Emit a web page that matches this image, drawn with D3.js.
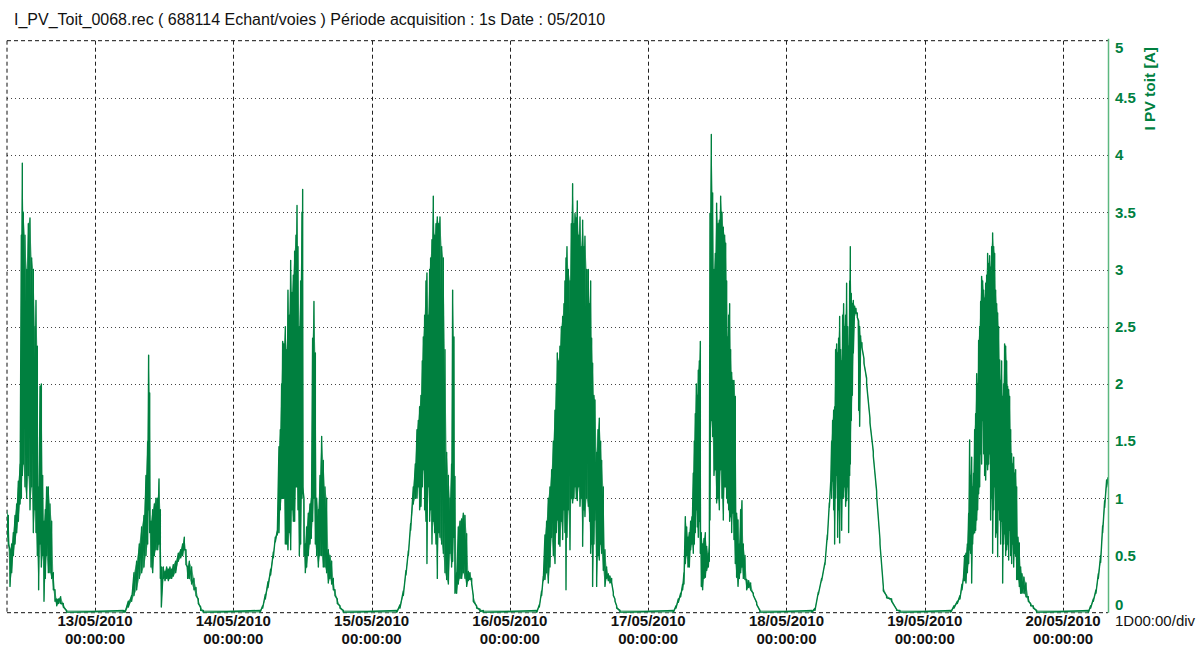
<!DOCTYPE html>
<html>
<head>
<meta charset="utf-8">
<script src="https://cdn.jsdelivr.net/npm/d3@7/dist/d3.min.js"></script>
<style>
  body { margin: 0; background: #fff; }
  svg { display: block; }
</style>
</head>
<body>
<div id="viz"></div>
<script>
const W = 1201;
const H = 648;
const PLOT = { left: 7, right: 1108, top: 40.7, bottom: 612.7 };
const FONT = "'Liberation Sans', Arial, sans-serif";
const GREEN = "#00803f";
const LIGHT_GREEN = "#5aae82";
const AXIS_GREEN = "#5cb87f";

const TITLE = "I_PV_Toit_0068.rec ( 688114 Echant/voies ) Période acquisition : 1s Date : 05/2010";
const Y_TITLE = "I PV toit [A]";
const X_UNIT = "1D00:00/div";

// time in hours since 12/05/2010 00:00:00
const T_START = 8.73;
const T_END = 199.8;
const DAY_TICKS = [24, 48, 72, 96, 120, 144, 168, 192];
const DAY_LABELS = ["13/05/2010", "14/05/2010", "15/05/2010", "16/05/2010",
                    "17/05/2010", "18/05/2010", "19/05/2010", "20/05/2010"];
const TIME_LABEL = "00:00:00";
const Y_TICKS = [0, 0.5, 1, 1.5, 2, 2.5, 3, 3.5, 4, 4.5, 5];

// [hour, low envelope, high envelope] in A
const day12 = [
  [8.67, 0.66, 0.9], [8.96, 0.6, 0.85], [9.25, 0.23, 0.55], [9.54, 0.35, 0.6], [9.83, 0.5, 0.7],
  [10.12, 0.6, 0.85], [10.41, 0.7, 0.95], [10.7, 0.8, 1.15], [10.99, 0.95, 1.3], [11.22, 1.0, 3.3],
  [11.39, 1.2, 3.93], [11.56, 1.3, 3.5], [11.85, 1.1, 3.3], [12.14, 1.0, 3.0], [12.43, 1.2, 3.4],
  [12.72, 0.9, 3.45], [13.01, 1.1, 3.1], [13.3, 0.7, 3.0], [13.59, 0.9, 2.5], [13.76, 0.7, 2.73],
  [13.99, 0.5, 2.33], [14.22, 0.2, 1.1], [14.46, 0.6, 1.98], [14.69, 0.4, 2.0], [14.92, 0.5, 1.2],
  [15.15, 0.1, 0.8], [15.38, 0.3, 0.9], [15.61, 0.5, 1.1], [15.9, 0.35, 1.1], [16.19, 0.35, 0.95],
  [16.48, 0.3, 0.8], [16.77, 0.2, 0.35], [17.06, 0.1, 0.2], [17.35, 0.06, 0.12], [17.64, 0.08, 0.12],
  [18.04, 0.08, 0.14], [18.5, 0.05, 0.08], [19.08, 0, 0.02]
];
const day13 = [
  [28.92, 0, 0.02], [29.21, 0, 0.02], [29.78, 0.05, 0.1], [30.36, 0.1, 0.15], [30.77, 0.15, 0.35],
  [31.23, 0.2, 0.45], [31.69, 0.3, 0.6], [32.1, 0.35, 0.75], [32.5, 0.4, 0.85], [32.85, 0.5, 1.2],
  [33.14, 0.6, 1.5], [33.31, 0.9, 2.25], [33.49, 0.7, 1.92], [33.72, 0.4, 0.8], [34.01, 0.35, 0.9],
  [34.3, 0.5, 0.95], [34.59, 0.55, 1.0], [34.88, 0.55, 1.0], [35.11, 0.6, 1.17], [35.34, 0.3, 0.9],
  [35.51, 0.05, 0.4], [35.86, 0.3, 0.4], [36.15, 0.28, 0.36], [36.44, 0.3, 0.4], [36.73, 0.28, 0.38],
  [37.01, 0.3, 0.4], [37.3, 0.3, 0.38], [37.59, 0.32, 0.42], [38.0, 0.35, 0.45], [38.46, 0.45, 0.52],
  [38.87, 0.48, 0.55], [39.21, 0.5, 0.6], [39.5, 0.55, 0.66], [39.79, 0.42, 0.55], [40.08, 0.3, 0.4],
  [40.37, 0.3, 0.45], [40.77, 0.25, 0.4], [41.18, 0.2, 0.3], [41.53, 0.15, 0.22], [41.93, 0.08, 0.12],
  [42.34, 0.02, 0.05], [42.8, 0, 0.02]
];
const day14 = [
  [52.63, 0, 0.02], [53.1, 0.04, 0.06], [53.56, 0.12, 0.16], [54.02, 0.22, 0.27], [54.48, 0.33, 0.38],
  [54.95, 0.48, 0.53], [55.29, 0.62, 0.66], [55.64, 0.68, 0.72], [55.93, 0.7, 1.45], [56.16, 0.9, 1.6],
  [56.39, 1.0, 2.0], [56.57, 1.0, 2.37], [56.8, 1.0, 2.35], [57.03, 0.6, 2.5], [57.26, 0.6, 2.3],
  [57.49, 0.55, 2.82], [57.72, 0.7, 2.6], [57.96, 0.55, 3.08], [58.19, 0.9, 2.8], [58.42, 0.8, 2.95],
  [58.65, 0.8, 3.16], [58.88, 1.1, 3.3], [59.06, 1.1, 3.56], [59.23, 0.9, 3.2], [59.46, 0.5, 2.5],
  [59.69, 0.6, 2.9], [59.92, 1.0, 3.5], [60.04, 1.1, 3.7], [60.27, 0.5, 1.0], [60.5, 0.35, 0.6],
  [60.73, 0.4, 0.75], [61.02, 0.5, 0.87], [61.31, 0.6, 0.95], [61.54, 0.65, 1.0], [61.77, 0.8, 2.4],
  [62.0, 1.0, 2.72], [62.24, 0.6, 2.27], [62.47, 0.5, 1.0], [62.76, 0.4, 0.9], [63.05, 0.5, 1.2],
  [63.34, 0.5, 1.54], [63.62, 0.4, 1.33], [63.91, 0.4, 1.1], [64.2, 0.35, 1.0], [64.49, 0.26, 0.55],
  [64.78, 0.3, 0.5], [65.07, 0.25, 0.45], [65.36, 0.2, 0.3], [65.65, 0.15, 0.2], [66.05, 0.08, 0.12],
  [66.52, 0.04, 0.06], [67.1, 0, 0.02]
];
const day15 = [
  [76.35, 0, 0.02], [76.93, 0.04, 0.07], [77.51, 0.15, 0.19], [77.97, 0.33, 0.37], [78.38, 0.5, 0.54],
  [78.78, 0.72, 0.78], [79.24, 0.95, 1.1], [79.59, 1.0, 1.3], [79.88, 1.0, 1.6], [80.11, 1.1, 1.68],
  [80.34, 0.9, 1.8], [80.57, 0.93, 1.9], [80.8, 1.1, 2.2], [80.98, 1.25, 2.41], [81.21, 0.9, 2.6],
  [81.44, 0.8, 2.9], [81.61, 0.43, 2.97], [81.84, 1.1, 2.6], [82.08, 0.8, 3.0], [82.25, 0.9, 3.1],
  [82.48, 0.6, 3.26], [82.71, 0.8, 3.64], [82.94, 0.7, 3.3], [83.18, 0.6, 3.4], [83.41, 0.3, 3.46],
  [83.64, 0.7, 3.4], [83.87, 0.66, 3.46], [84.16, 0.6, 3.2], [84.45, 0.52, 3.1], [84.74, 0.35, 2.3],
  [85.03, 0.29, 1.4], [85.32, 0.25, 1.2], [85.61, 0.52, 1.0], [85.89, 0.4, 1.3], [86.07, 0.45, 2.82],
  [86.3, 0.66, 2.41], [86.47, 0.17, 1.19], [86.76, 0.17, 0.35], [87.05, 0.25, 0.75], [87.34, 0.3, 0.8],
  [87.63, 0.3, 0.82], [87.92, 0.35, 0.87], [88.21, 0.3, 0.85], [88.5, 0.23, 0.69], [88.79, 0.28, 0.36],
  [89.08, 0.29, 0.35], [89.37, 0.25, 0.3], [89.65, 0.1, 0.15], [90.23, 0.04, 0.06], [90.81, 0.01, 0.03],
  [91.39, 0, 0.02]
];
const day16 = [
  [100.65, 0, 0.02], [101.11, 0.05, 0.07], [101.51, 0.15, 0.19], [101.8, 0.28, 0.32], [102.09, 0.29, 0.68],
  [102.38, 0.35, 0.8], [102.67, 0.26, 1.0], [102.96, 0.4, 1.1], [103.25, 0.66, 1.25], [103.54, 0.5, 1.5],
  [103.83, 0.43, 1.77], [104.06, 0.7, 2.0], [104.23, 0.81, 2.27], [104.46, 0.6, 2.2], [104.69, 0.58, 2.33],
  [104.93, 0.8, 2.5], [105.16, 0.64, 2.59], [105.39, 0.9, 2.7], [105.56, 0.7, 2.9], [105.74, 0.2, 3.1],
  [105.91, 0.66, 3.2], [106.14, 0.9, 3.0], [106.43, 0.55, 2.9], [106.66, 1.0, 3.4], [106.89, 0.96, 3.75],
  [107.12, 1.0, 3.4], [107.3, 1.1, 3.49], [107.53, 1.0, 3.45], [107.7, 0.98, 3.6], [107.93, 1.1, 3.3],
  [108.17, 0.93, 3.46], [108.4, 1.0, 3.2], [108.63, 0.58, 3.43], [108.86, 0.9, 3.2], [109.03, 0.84, 3.29],
  [109.32, 1.0, 3.0], [109.61, 0.93, 3.0], [109.84, 0.8, 2.7], [110.02, 0.52, 2.9], [110.19, 0.6, 2.4],
  [110.36, 0.23, 2.18], [110.59, 0.6, 1.9], [110.77, 0.81, 1.86], [111.06, 0.23, 1.4], [111.29, 0.5, 1.6],
  [111.52, 0.46, 1.7], [111.75, 0.6, 1.5], [111.93, 0.52, 1.33], [112.21, 0.37, 1.1], [112.5, 0.23, 0.55],
  [112.79, 0.3, 0.4], [113.08, 0.28, 0.34], [113.37, 0.26, 0.32], [113.66, 0.26, 0.3], [113.95, 0.15, 0.18],
  [114.24, 0.1, 0.12], [114.53, 0.04, 0.06], [115.11, 0, 0.02]
];
const day17 = [
  [124.36, 0, 0.02], [124.83, 0.04, 0.06], [125.23, 0.09, 0.12], [125.64, 0.14, 0.17], [125.98, 0.2, 0.25],
  [126.21, 0.25, 0.35], [126.45, 0.43, 0.84], [126.68, 0.5, 0.75], [126.91, 0.4, 0.66], [127.14, 0.4, 0.7],
  [127.37, 0.55, 0.8], [127.6, 0.6, 0.84], [127.83, 0.52, 1.22], [128.01, 0.6, 1.5], [128.18, 0.7, 1.74],
  [128.36, 0.9, 2.0], [128.53, 0.75, 1.9], [128.7, 0.66, 2.12], [128.88, 0.8, 2.2], [129.05, 0.52, 2.37],
  [129.22, 0.23, 0.7], [129.45, 0.2, 0.6], [129.69, 0.3, 0.65], [129.92, 0.31, 0.7], [130.15, 0.37, 0.58],
  [130.44, 0.4, 0.52], [130.61, 0.45, 0.6], [130.73, 0.81, 3.49], [130.96, 1.68, 4.18], [131.19, 1.54, 3.67],
  [131.42, 1.2, 3.0], [131.65, 1.25, 3.14], [131.88, 0.96, 3.58], [132.12, 1.0, 3.4], [132.35, 0.9, 3.43],
  [132.58, 1.25, 3.64], [132.81, 1.0, 3.5], [133.04, 0.81, 3.37], [133.27, 1.1, 3.3], [133.45, 1.1, 3.23],
  [133.62, 1.0, 2.9], [133.79, 0.96, 2.41], [133.97, 0.9, 2.6], [134.14, 0.8, 2.7], [134.31, 0.84, 2.3],
  [134.49, 0.7, 2.1], [134.66, 0.87, 2.03], [134.89, 0.64, 2.03], [135.12, 0.43, 1.89], [135.35, 0.31, 0.87],
  [135.59, 0.23, 0.81], [135.82, 0.3, 0.6], [136.05, 0.35, 0.9], [136.28, 0.4, 0.98], [136.51, 0.3, 0.6],
  [136.8, 0.29, 0.5], [137.09, 0.2, 0.29], [137.44, 0.22, 0.28], [137.78, 0.2, 0.26], [138.25, 0.15, 0.17],
  [138.83, 0.07, 0.09], [139.4, 0, 0.02]
];
const day18 = [
  [148.37, 0, 0.02], [148.95, 0.02, 0.04], [149.53, 0.16, 0.18], [150.11, 0.28, 0.3], [150.68, 0.42, 0.44],
  [151.09, 0.64, 0.68], [151.44, 0.92, 0.96], [151.67, 1.1, 1.14], [151.84, 1.0, 1.5], [152.01, 1.15, 1.68],
  [152.19, 0.9, 1.77], [152.36, 0.6, 1.8], [152.53, 1.0, 2.3], [152.71, 1.2, 2.35], [152.88, 0.66, 2.27],
  [153.05, 0.9, 2.4], [153.23, 0.61, 2.59], [153.4, 1.0, 2.3], [153.58, 0.72, 2.2], [153.75, 1.0, 2.6],
  [153.92, 1.01, 2.7], [154.1, 1.1, 2.5], [154.27, 0.93, 2.6], [154.44, 0.98, 2.88], [154.62, 1.1, 2.5],
  [154.79, 0.7, 2.33], [154.97, 1.2, 2.9], [155.08, 1.3, 3.2], [155.25, 1.68, 2.79], [155.43, 1.9, 2.7],
  [155.6, 2.27, 2.73], [155.83, 2.6, 2.68], [156.06, 2.62, 2.66], [156.29, 2.58, 2.62], [156.53, 1.77, 2.55],
  [156.7, 1.63, 2.5], [156.87, 2.35, 2.42], [157.1, 2.32, 2.36], [157.45, 2.18, 2.22], [157.91, 2.0, 2.05],
  [158.49, 1.66, 1.7], [159.07, 1.37, 1.41], [159.65, 1.02, 1.06], [160.23, 0.6, 0.64], [160.81, 0.19, 0.23],
  [161.38, 0.13, 0.15], [162.25, 0.1, 0.12], [163.12, 0.02, 0.03], [163.7, 0, 0.02]
];
const day19 = [
  [172.49, 0, 0.02], [173.07, 0.04, 0.06], [173.65, 0.08, 0.1], [174.11, 0.12, 0.15], [174.46, 0.2, 0.25],
  [174.69, 0.28, 0.3], [174.92, 0.28, 0.5], [175.15, 0.26, 0.52], [175.39, 0.35, 0.6], [175.62, 0.43, 0.87],
  [175.79, 0.55, 1.51], [175.96, 0.52, 1.2], [176.14, 0.26, 1.36], [176.31, 0.6, 1.1], [176.48, 0.69, 1.22],
  [176.66, 0.7, 1.6], [176.83, 0.72, 1.74], [177.01, 0.81, 2.09], [177.18, 0.9, 2.0], [177.35, 1.04, 2.38],
  [177.53, 1.1, 2.5], [177.7, 1.39, 2.72], [177.87, 1.3, 2.94], [178.05, 1.68, 2.9], [178.22, 1.39, 2.82],
  [178.39, 1.2, 2.75], [178.57, 1.16, 2.88], [178.74, 1.3, 2.95], [178.91, 1.25, 3.14], [179.09, 1.3, 3.05],
  [179.26, 1.39, 3.12], [179.43, 0.81, 3.02], [179.61, 1.0, 3.2], [179.78, 0.52, 3.32], [179.96, 0.9, 3.2],
  [180.13, 1.1, 3.14], [180.3, 0.66, 2.82], [180.48, 0.7, 2.7], [180.65, 0.49, 2.62], [180.82, 0.9, 2.5],
  [181.0, 0.81, 2.21], [181.17, 0.6, 2.03], [181.34, 0.8, 2.2], [181.52, 0.26, 1.89], [181.69, 0.6, 2.0],
  [181.86, 0.69, 2.35], [182.04, 0.5, 2.33], [182.21, 0.55, 2.2], [182.38, 0.6, 1.98], [182.56, 0.46, 1.95],
  [182.73, 0.72, 1.89], [182.91, 0.5, 1.6], [183.08, 0.43, 1.39], [183.25, 0.6, 1.3], [183.43, 0.4, 1.36],
  [183.6, 0.52, 1.22], [183.77, 0.5, 1.25], [183.95, 0.29, 1.1], [184.18, 0.29, 0.66], [184.41, 0.23, 0.61],
  [184.64, 0.17, 0.4], [184.87, 0.17, 0.34], [185.22, 0.17, 0.31], [185.57, 0.14, 0.26], [185.97, 0.1, 0.14],
  [186.38, 0.06, 0.08], [186.84, 0.04, 0.06], [187.42, 0, 0.02]
];
const day20 = [
  [196.38, 0, 0.02], [196.79, 0.04, 0.06], [197.25, 0.1, 0.12], [197.71, 0.17, 0.2], [198.12, 0.3, 0.34],
  [198.52, 0.44, 0.5], [198.87, 0.7, 0.76], [199.22, 0.92, 0.98], [199.56, 1.1, 1.16], [199.8, 1.14, 1.18]
];

function drawFrame(svg, x, y) {
  // horizontal dotted grid
  svg.append("g")
    .selectAll("line")
    .data(Y_TICKS.filter(v => v > 0 && v < 5))
    .join("line")
    .attr("x1", PLOT.left).attr("x2", PLOT.right)
    .attr("y1", d => Math.round(y(d)) + 0.5).attr("y2", d => Math.round(y(d)) + 0.5)
    .attr("stroke", "#444")
    .attr("stroke-width", 1)
    .attr("stroke-dasharray", "1,3");

  // vertical day lines
  svg.append("g")
    .selectAll("line")
    .data(DAY_TICKS)
    .join("line")
    .attr("x1", d => Math.round(x(d)) + 0.5).attr("x2", d => Math.round(x(d)) + 0.5)
    .attr("y1", PLOT.top).attr("y2", PLOT.bottom)
    .attr("stroke", "#222")
    .attr("stroke-width", 1)
    .attr("stroke-dasharray", "4,3");

  // dashed border (left, top, bottom)
  const border = [
    [PLOT.left, PLOT.top, PLOT.right, PLOT.top],
    [PLOT.left, PLOT.top, PLOT.left, PLOT.bottom],
    [PLOT.left, PLOT.bottom, PLOT.right, PLOT.bottom]
  ];
  svg.append("g")
    .selectAll("line")
    .data(border)
    .join("line")
    .attr("x1", d => d[0]).attr("y1", d => d[1])
    .attr("x2", d => d[2]).attr("y2", d => d[3])
    .attr("stroke", "#111")
    .attr("stroke-width", 1)
    .attr("stroke-dasharray", "4,3");
}

function drawTrace(svg, x, y) {
  const samples = [].concat(day12, day13, day14, day15, day16, day17, day18, day19, day20);

  svg.append("clipPath").attr("id", "plot-clip")
    .append("rect")
    .attr("x", PLOT.left).attr("y", PLOT.top - 2)
    .attr("width", PLOT.right - PLOT.left).attr("height", PLOT.bottom - PLOT.top + 2);

  const g = svg.append("g").attr("clip-path", "url(#plot-clip)");

  // light envelope between low and high readings
  const band = d3.area()
    .x(d => x(d[0]))
    .y0(d => y(d[1]))
    .y1(d => y(d[2]));

  g.append("path")
    .datum(samples)
    .attr("d", band)
    .attr("fill", LIGHT_GREEN);

  // dense trace: each reading swings from its high to its low value
  const swing = d3.line().x(d => d.x).y(d => d.y);
  const swingPts = samples.flatMap(d => [
    { x: x(d[0]), y: y(d[2]) },
    { x: x(d[0]), y: y(d[1]) }
  ]);

  g.append("path")
    .attr("d", swing(swingPts))
    .attr("fill", "none")
    .attr("stroke", GREEN)
    .attr("stroke-width", 1.4)
    .attr("stroke-linejoin", "round");
}

function drawAxes(svg, x, y) {
  // green value axis on the right
  svg.append("line")
    .attr("x1", PLOT.right + 0.5).attr("x2", PLOT.right + 0.5)
    .attr("y1", PLOT.top - 2).attr("y2", PLOT.bottom)
    .attr("stroke", AXIS_GREEN)
    .attr("stroke-width", 1.5);

  svg.append("g")
    .selectAll("text")
    .data(Y_TICKS)
    .join("text")
    .attr("x", 1115)
    .attr("y", d => d === 5 ? y(d) + 7 : d === 0 ? y(d) - 8 : y(d))
    .attr("dy", "0.35em")
    .attr("fill", GREEN)
    .attr("font-family", FONT)
    .attr("font-size", 15)
    .attr("font-weight", "bold")
    .text(d => String(d));

  svg.append("text")
    .attr("transform", "translate(1155,47) rotate(-90)")
    .attr("text-anchor", "end")
    .attr("fill", GREEN)
    .attr("font-family", FONT)
    .attr("font-size", 15.5)
    .attr("font-weight", "bold")
    .text(Y_TITLE);

  // day labels under the plot
  const labels = svg.append("g")
    .selectAll("g")
    .data(DAY_TICKS)
    .join("g")
    .attr("transform", d => `translate(${x(d)},0)`);

  labels.append("text")
    .attr("y", 626)
    .attr("text-anchor", "middle")
    .attr("fill", "#111")
    .attr("font-family", FONT)
    .attr("font-size", 15)
    .attr("font-weight", "bold")
    .text((d, i) => DAY_LABELS[i]);

  labels.append("text")
    .attr("y", 644)
    .attr("text-anchor", "middle")
    .attr("fill", "#111")
    .attr("font-family", FONT)
    .attr("font-size", 15)
    .attr("font-weight", "bold")
    .text(TIME_LABEL);

  svg.append("text")
    .attr("x", 1115)
    .attr("y", 626)
    .attr("fill", "#111")
    .attr("font-family", FONT)
    .attr("font-size", 15)
    .text(X_UNIT);
}

function run() {
  const svg = d3.select("#viz").append("svg")
    .attr("width", W)
    .attr("height", H);

  const x = d3.scaleLinear().domain([T_START, T_END]).range([PLOT.left, PLOT.right]);
  const y = d3.scaleLinear().domain([0, 5]).range([PLOT.bottom, PLOT.top]);

  svg.append("text")
    .attr("x", 14)
    .attr("y", 25)
    .attr("fill", "#111")
    .attr("font-family", FONT)
    .attr("font-size", 16)
    .text(TITLE);

  drawFrame(svg, x, y);
  drawTrace(svg, x, y);
  drawAxes(svg, x, y);
}

run();
</script>
</body>
</html>
